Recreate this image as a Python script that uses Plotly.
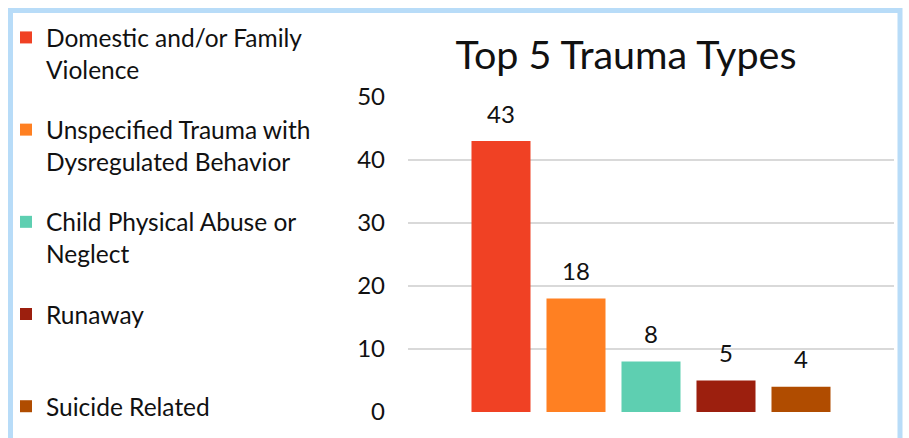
import plotly.graph_objects as go

categories = ["Domestic and/or Family Violence",
              "Unspecified Trauma with Dysregulated Behavior",
              "Child Physical Abuse or Neglect",
              "Runaway",
              "Suicide Related"]
legend_labels = ["Domestic and/or Family<br>Violence",
                 "Unspecified Trauma with<br>Dysregulated Behavior",
                 "Child Physical Abuse or<br>Neglect",
                 "Runaway<br> ",
                 "Suicide Related"]
values = [43, 18, 8, 5, 4]
colors = ["#F04124", "#FF8022", "#5ECFB1", "#9C1F0E", "#B04C00"]
y_ticks = [0, 10, 20, 30, 40, 50]

FONT = "Lato"
W, H = 909, 438
L, R, T, B = 408, 894, 97, 412

fig = go.Figure()
for i, (cat, lab, val, col) in enumerate(zip(categories, legend_labels, values, colors)):
    fig.add_trace(go.Bar(
        x=[cat], y=[val], name=lab, marker_color=col, marker_line_width=0,
        width=0.787, legendgroup=f"g{i}", showlegend=True,
    ))
    fig.add_annotation(x=cat, y=val, text=str(val), showarrow=False,
                       yshift=28, font=dict(family=FONT, size=24, color="#111111"))

n = len(categories)
span = (R - L) / 75.0
c = (n - 1) / 2
fig.update_layout(
    width=W, height=H,
    margin=dict(l=0, r=0, t=0, b=0, pad=0, autoexpand=False),
    paper_bgcolor="white", plot_bgcolor="white",
    barmode="overlay",
    title=dict(text="Top 5 Trauma Types", x=626 / W, xanchor="center",
               xref="container", yref="container", y=1 - 41 / H, yanchor="top",
               font=dict(family=FONT, size=39.5, color="#111111")),
    font=dict(family=FONT, color="#111111"),
    xaxis=dict(domain=[L / W, R / W], range=[c - span / 2, c + span / 2],
               showticklabels=False, showgrid=False, zeroline=False,
               showline=False, ticks="", automargin=False),
    yaxis=dict(domain=[1 - B / H, 1 - T / H], range=[0, 50], tickvals=y_ticks,
               showgrid=True, gridcolor="#D9D9D9", gridwidth=2, zeroline=False,
               showline=False, ticks="", automargin=False,
               tickfont=dict(family=FONT, size=24, color="#111111"),
               ticklabelstandoff=22),
    legend=dict(xref="container", yref="container", x=6 / W, y=1 - 15 / H,
                xanchor="left", yanchor="top", traceorder="grouped",
                tracegroupgap=25.5, valign="top", bgcolor="rgba(0,0,0,0)",
                maxheight=440,
                font=dict(family=FONT, size=24.5, color="#111111")),
    shapes=[dict(type="path", xref="paper", yref="paper",
                 path="M {x0},{yb} L {x0},{yt} L {x1},{yt} L {x1},{yb}".format(
                     x0=10.5 / W, x1=900 / W, yt=1 - 10.5 / H, yb=-0.1),
                 line=dict(color="#B8DCF8", width=5), layer="above")],
)
fig.write_html("out.html", config={"displayModeBar": False},
               post_script="document.body.style.margin='0';")
